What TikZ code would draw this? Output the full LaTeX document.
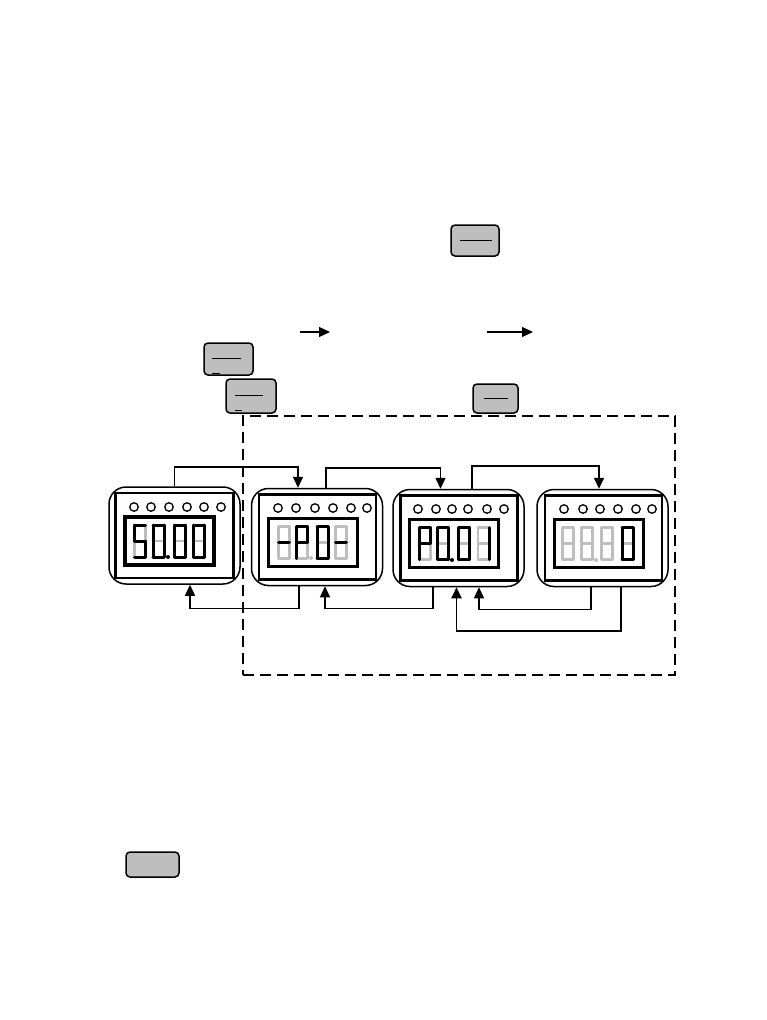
\documentclass[tikz,border=0pt]{standalone}
\usetikzlibrary{arrows.meta,calc}
\definecolor{keygrey}{HTML}{BEBEBE}
\definecolor{seggrey}{HTML}{BEBEBE}

% seven segments of one digit, top-left corner at the origin of the scope
\newcommand{\sega}{(0,0) -- (11,0)}
\newcommand{\segb}{(11,0) -- (11,16)}
\newcommand{\segc}{(11,16) -- (11,32)}
\newcommand{\segd}{(0,32) -- (11,32)}
\newcommand{\sege}{(0,16) -- (0,32)}
\newcommand{\segf}{(0,0) -- (0,16)}
\newcommand{\segg}{(0,16) -- (11,16)}
% x, y, grey segments, black segments
\newcommand{\segdigit}[4]{%
  \begin{scope}[shift={(#1,#2)}]
    \foreach \s in {#3} {\draw[segoff] \csname seg\s\endcsname;}
    \foreach \s in {#4} {\draw[segon] \csname seg\s\endcsname;}
  \end{scope}}

\begin{document}
\begin{tikzpicture}[x=1pt, y=-1pt, >={Triangle[length=11pt, width=10pt]},
    panel/.style={rectangle, draw=black, fill=white, rounded corners=17pt,
                  minimum width=131pt, minimum height=97pt, inner sep=0pt, line width=1.5pt},
    frame/.style={rectangle, draw=black, minimum width=117pt, minimum height=85pt,
                  inner sep=0pt, line width=2.2pt},
    display/.style={rectangle, draw=black, minimum width=89pt, minimum height=48pt,
                    inner sep=0pt, line width=3pt},
    led/.style={circle, draw=black, minimum width=8.5pt, inner sep=0pt, line width=1.3pt},
    key/.style={rectangle, draw=black, fill=keygrey, rounded corners=4pt,
                inner sep=0pt, line width=1.5pt},
    keybar/.style={line width=0.85pt},
    segoff/.style={draw=seggrey, line width=2.8pt, line cap=round},
    segon/.style={draw=black, line width=3pt, line cap=round},
    dotoff/.style={circle, fill=seggrey, minimum size=4pt, inner sep=0pt},
    doton/.style={circle, fill=black, minimum size=4pt, inner sep=0pt},
    fwd/.style={->, line width=1.6pt},
    back/.style={->, line width=1.2pt},
    backlong/.style={->, line width=1.8pt}]

\useasboundingbox (0,0) rectangle (766,1020);

% Keys
\node[key, minimum width=48pt, minimum height=31pt] (keyprog) at (475,240.5) {};
\draw[keybar] (460,240) -- (492,240);
\node[key, minimum width=49pt, minimum height=32pt] (keyesc) at (228.5,359) {};
\draw[keybar] (212,358) -- (241,358);
\draw[keybar] (212,373) -- (220,373);
\node[key, minimum width=50pt, minimum height=34pt] (keymenu) at (251,396) {};
\draw[keybar] (235,395) -- (263,395);
\draw[keybar] (235,410) -- (242,410);
\node[key, minimum width=45pt, minimum height=29pt] (keyenter) at (495.5,398.5) {};
\draw[keybar] (484,398) -- (508,398);
\node[key, minimum width=53pt, minimum height=25pt] (keyblank) at (152.5,864.5) {};

% Small arrows in the text line
\coordinate (arrowa) at (300,332);
\coordinate (arrowb) at (330,332);
\coordinate (arrowc) at (487,332);
\coordinate (arrowd) at (533,332);
\draw[->, line width=1.1pt] (arrowa) -- (arrowb);
\draw[->, line width=1.1pt] (arrowc) -- (arrowd);

% Dashed region
\node[rectangle, draw=black, dashed, dash pattern=on 11pt off 6pt, line width=1.6pt,
      minimum width=432pt, minimum height=259pt, inner sep=0pt] (region) at (459,545.5) {};

% Panel 1
\node[panel] (run) at (174.5,535.5) {};
\node[frame, minimum width=118pt] (runframe) at (174.5,535.5) {};
\node[display, line width=3.2pt] (rundisp) at (169.5,541) {};
\foreach \x in {134,151,169,187,204,221} \node[led] (runled\x) at (\x,507) {};
\segdigit{134.5}{525}{e,b}{a,f,g,c,d}
\segdigit{153}{525}{g}{a,b,c,d,e,f}
\segdigit{174.5}{525}{g}{a,b,c,d,e,f}
\segdigit{193.5}{525}{g}{a,b,c,d,e,f}
\node[doton] (rundot) at (168,557) {};

% Panel 2
\node[panel] (group) at (317,537) {};
\node[frame] (groupframe) at (317.5,537) {};
\node[display] (groupdisp) at (312.5,542) {};
\foreach \x in {278,296,315,333,351,367} \node[led] (groupled\x) at (\x,508) {};
\segdigit{278.5}{526.5}{a,b,c,d,e,f}{g}
\segdigit{296.5}{526.5}{c,d}{a,b,e,f,g}
\segdigit{317}{526.5}{g}{a,b,c,d,e,f}
\segdigit{335.5}{526.5}{a,b,c,d,e,f}{g}
\node[dotoff] (groupdot) at (311,558) {};

% Panel 3
\node[panel] (param) at (458.5,538) {};
\node[frame] (paramframe) at (459,538) {};
\node[display] (paramdisp) at (454,543) {};
\foreach \x in {418,436,452,468,487,504} \node[led] (paramled\x) at (\x,509) {};
\segdigit{419.5}{527.5}{c,d}{a,b,e,f,g}
\segdigit{437.5}{527.5}{g}{a,b,c,d,e,f}
\segdigit{458.5}{527.5}{g}{a,b,c,d,e,f}
\segdigit{478}{527.5}{a,d,e,f,g}{b,c}
\node[doton] (paramdot) at (452,560) {};

% Panel 4
\node[panel] (value) at (602.5,538) {};
\node[frame] (valueframe) at (603.5,538) {};
\node[display] (valuedisp) at (598.5,543) {};
\foreach \x in {564,583,600,618,636,652} \node[led] (valueled\x) at (\x,509) {};
\segdigit{562.5}{527.5}{a,b,c,d,e,f,g}{}
\segdigit{581.5}{527.5}{a,b,c,d,e,f,g}{}
\segdigit{601.5}{527.5}{a,b,c,d,e,f,g}{}
\segdigit{622}{527.5}{g}{a,b,c,d,e,f}
\node[dotoff] (valuedot) at (596,560) {};

% Forward connectors over the panels
\draw[fwd] (run.north) -- ++(0,-19) -| ($(group.north)+(-19,0)$);
\draw[fwd] ($(group.north)+(9,0)$) -- ++(0,-20) -| ($(param.north)+(-18,0)$);
\draw[fwd] ($(param.north)+(13.5,0)$) -- ++(0,-23) -| ($(value.north)+(-3.5,0)$);

% Return connectors under the panels
\draw[back] ($(group.south)+(-18,0)$) -- ++(0,22) -| ($(run.south)+(15.5,0)$);
\draw[back] ($(param.south)+(-25.5,0)$) -- ++(0,21) -| ($(group.south)+(8,0)$);
\draw[back] ($(value.south)+(-11.5,0)$) -- ++(0,22) -| ($(param.south)+(20.5,0)$);
\draw[backlong] ($(value.south)+(18.5,0)$) -- ++(0,44) -| ($(param.south)+(-2,0)$);

\end{tikzpicture}
\end{document}
